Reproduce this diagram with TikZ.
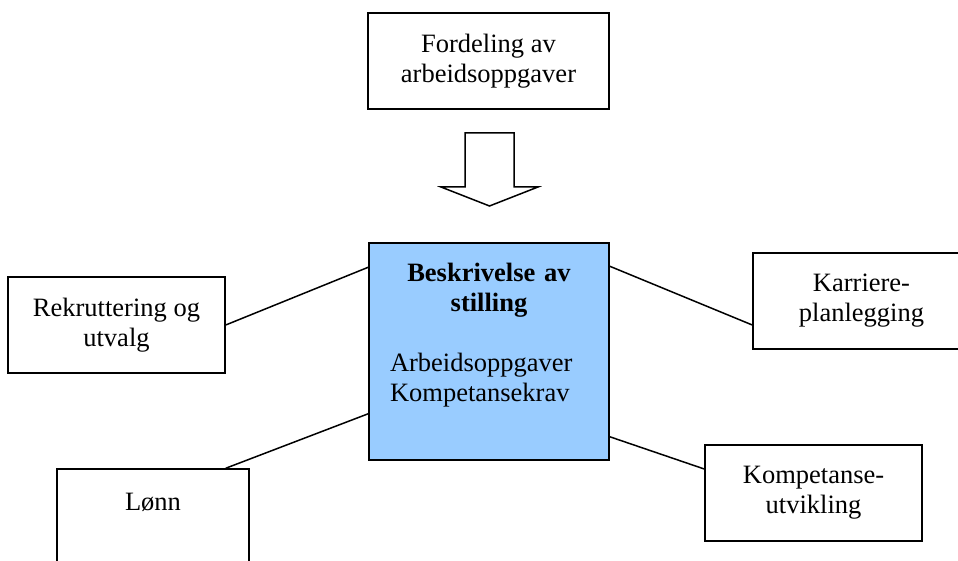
\documentclass[tikz,border=0pt]{standalone}
\usepackage{fontspec}
\setmainfont{Liberation Serif}
\usepackage{xcolor}
\usepackage{tikz}
\usetikzlibrary{positioning}
\definecolor{stlblue}{HTML}{99CCFF}
\definecolor{stlink}{HTML}{000000}

\tikzset{
  rolebox/.style={draw=stlink, line width=1.5pt, fill=white, align=center,
    minimum width=217pt, minimum height=96pt, inner sep=0pt,
    font=\fontsize{26.5}{30}\selectfont},
  link/.style={draw=stlink, line width=1.5pt}
}

\begin{document}
\begin{tikzpicture}[x=1pt,y=1pt]
  \useasboundingbox (0,0) rectangle (958,561);
  \clip (0,0) rectangle (958,561);

  \node[rolebox, minimum width=241pt] (fordeling) at (488.5,500)
    {Fordeling av\\arbeidsoppgaver};
  \draw[stlink, line width=1.5pt, fill=white]
    (465,428) -- (465,374) -- (441,374) -- (489.5,355) -- (538,374) -- (514,374) -- (514,428) -- cycle;

  \node[rolebox, fill=stlblue, minimum width=240pt, minimum height=217pt,
    text width=198pt, align=left] (stilling) at (489,209.5)
    {\makebox[198pt]{\bfseries Beskrivelse av}\\
     \makebox[198pt]{\bfseries stilling}\\[30pt]
     Arbeidsoppgaver\\
     Kompetansekrav\\[9pt]
     \mbox{}};

  \node[rolebox] (rekruttering) at (116.5,236) {Rekruttering og\\utvalg};
  \node[rolebox] (karriere) at (861.5,260) {Karriere-\\planlegging};
  \node[rolebox] (kompetanse) at (813.5,68) {Kompetanse-\\utvikling};
  \node[rolebox, minimum width=192pt] (lonn) at (153,44) {Lønn\\\mbox{}};

  \draw[link] (rekruttering.east) -- ([yshift=-25pt]stilling.north west);
  \draw[link] ([xshift=-24pt]lonn.north east) -- ([yshift=47pt]stilling.south west);
  \draw[link] ([yshift=-24pt]stilling.north east) -- ([yshift=-24pt]karriere.west);
  \draw[link] ([yshift=24pt]stilling.south east) -- ([yshift=24pt]kompetanse.west);
\end{tikzpicture}
\end{document}
